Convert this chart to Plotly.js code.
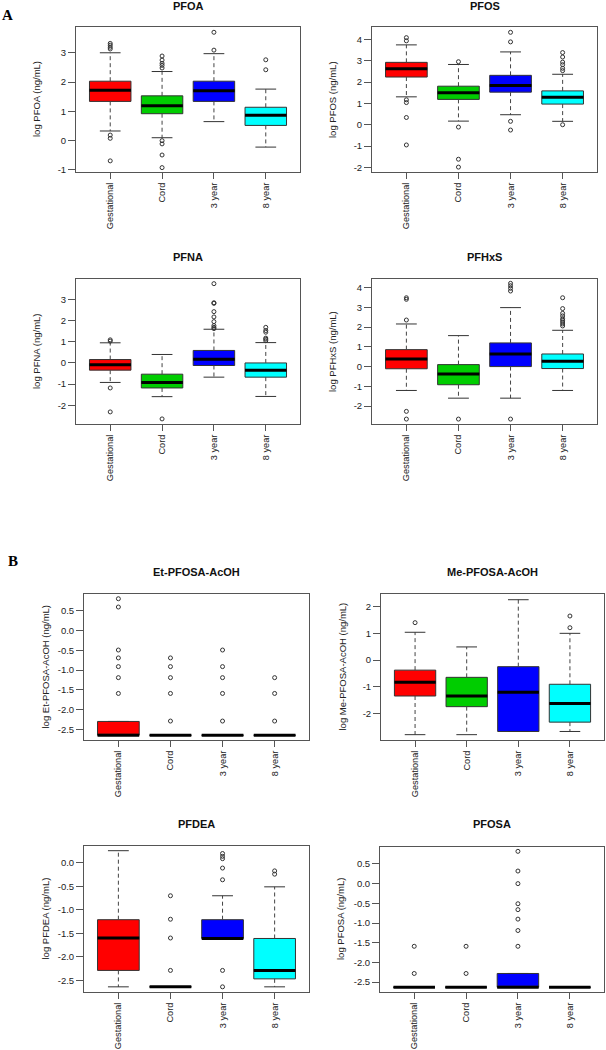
<!DOCTYPE html>
<html>
<head>
<meta charset="utf-8">
<script src="https://cdn.plot.ly/plotly-3.0.1.min.js"></script>
<style>
html,body{margin:0;padding:0;background:#fff;}
#chart{width:606px;height:1050px;}
</style>
</head>
<body>
<div id="chart"></div>
<script>
// ---------- DATA ----------
const categories = ["Gestational", "Cord", "3 year", "8 year"];
const boxColors = ["#FF0000", "#00CD00", "#0000FF", "#00FFFF"];

// PFOA
const pfoaLower  = [0.33, 0.10, 0.65, -0.22];
const pfoaQ1     = [1.34, 0.92, 1.34, 0.52];
const pfoaMedian = [1.72, 1.19, 1.70, 0.87];
const pfoaQ3     = [2.03, 1.53, 2.03, 1.14];
const pfoaUpper  = [3.00, 2.36, 2.97, 1.76];
const pfoaOutliers = [[3.32, 3.26, 3.19, 3.13, 0.19, 0.08, -0.69],
                      [2.89, 2.75, 2.64, 2.57, 2.48, 0.0, -0.11, -0.49, -0.92],
                      [3.70, 3.09],
                      [2.76, 2.42]];
const pfoaTicks = [-1, 0, 1, 2, 3];

// PFOS
const pfosLower  = [1.31, 0.17, 0.47, 0.16];
const pfosQ1     = [2.24, 1.19, 1.53, 0.97];
const pfosMedian = [2.63, 1.50, 1.84, 1.29];
const pfosQ3     = [2.93, 1.81, 2.32, 1.59];
const pfosUpper  = [3.75, 2.83, 3.42, 2.37];
const pfosOutliers = [[4.09, 3.94, 1.17, 1.04, 0.34, -0.95],
                      [2.96, -0.11, -1.62, -1.99],
                      [4.34, 3.89, 0.16, -0.25],
                      [3.39, 3.18, 2.94, 2.82, 2.65, 2.54, 0.0]];
const pfosTicks = [-2, -1, 0, 1, 2, 3, 4];

// PFNA
const pfnaLower  = [-0.92, -1.59, -0.67, -1.58];
const pfnaQ1     = [-0.34, -1.18, -0.12, -0.67];
const pfnaMedian = [-0.09, -0.92, 0.18, -0.34];
const pfnaQ3     = [0.16, -0.53, 0.59, 0.00];
const pfnaUpper  = [0.95, 0.40, 1.59, 0.96];
const pfnaOutliers = [[1.09, 1.03, -1.18, -2.31],
                      [-2.64],
                      [3.74, 2.84, 2.81, 2.42, 2.17, 1.95, 1.76, 1.68, 1.62],
                      [1.68, 1.53, 1.45, 1.17, 1.12, 1.05]];
const pfnaTicks = [-2, -1, 0, 1, 2, 3];

// PFHxS
const pfhxsLower  = [-1.21, -1.60, -1.60, -1.21];
const pfhxsQ1     = [-0.11, -0.92, 0.00, -0.10];
const pfhxsMedian = [0.39, -0.37, 0.64, 0.27];
const pfhxsQ3     = [0.86, 0.10, 1.20, 0.64];
const pfhxsUpper  = [2.16, 1.57, 2.99, 1.84];
const pfhxsOutliers = [[3.49, 3.41, 2.36, -2.27, -2.66],
                       [-2.66],
                       [4.22, 4.10, 3.97, 3.83, -2.66],
                       [3.49, 2.94, 2.70, 2.57, 2.43, 2.35, 2.26, 2.16, 2.06]];
const pfhxsTicks = [-2, -1, 0, 1, 2, 3, 4];

// Et-PFOSA-AcOH
const etLower  = [-2.65, -2.65, -2.65, -2.65];
const etQ1     = [-2.65, -2.65, -2.65, -2.65];
const etMedian = [-2.65, -2.65, -2.65, -2.65];
const etQ3     = [-2.30, -2.65, -2.65, -2.65];
const etUpper  = [-2.30, -2.65, -2.65, -2.65];
const etOutliers = [[0.81, 0.60, -0.49, -0.69, -0.91, -1.19, -1.59],
                    [-0.69, -0.91, -1.19, -1.59, -2.29],
                    [-0.49, -0.91, -1.19, -1.59, -2.29],
                    [-1.19, -1.59, -2.29]];
const etTicks = [-2.5, -2.0, -1.5, -1.0, -0.5, 0.0, 0.5];

// Me-PFOSA-AcOH
const meLower  = [-2.80, -2.80, -2.68, -2.68];
const meQ1     = [-1.35, -1.75, -2.68, -2.33];
const meMedian = [-0.83, -1.35, -1.21, -1.63];
const meQ3     = [-0.38, -0.65, -0.25, -0.91];
const meUpper  = [1.04, 0.49, 2.26, 1.00];
const meOutliers = [[1.40], [], [], [1.65, 1.21]];
const meTicks = [-2, -1, 0, 1, 2];

// PFDEA
const pfdeaLower  = [-2.64, -2.64, -1.61, -2.64];
const pfdeaQ1     = [-2.29, -2.64, -1.61, -2.47];
const pfdeaMedian = [-1.60, -2.64, -1.61, -2.29];
const pfdeaQ3     = [-1.21, -2.64, -1.21, -1.61];
const pfdeaUpper  = [0.26, -2.64, -0.70, -0.51];
const pfdeaOutliers = [[],
                       [-0.70, -1.20, -1.60, -2.29],
                       [0.20, 0.14, 0.09, -0.11, -0.36, -2.29, -2.64],
                       [-0.17, -0.24]];
const pfdeaTicks = [-2.5, -2.0, -1.5, -1.0, -0.5, 0.0];

// PFOSA
const pfosaLower  = [-2.63, -2.63, -2.63, -2.63];
const pfosaQ1     = [-2.63, -2.63, -2.63, -2.63];
const pfosaMedian = [-2.63, -2.63, -2.63, -2.63];
const pfosaQ3     = [-2.63, -2.63, -2.28, -2.63];
const pfosaUpper  = [-2.63, -2.63, -2.28, -2.63];
const pfosaOutliers = [[-1.59, -2.28],
                       [-1.59, -2.28],
                       [0.82, 0.32, 0.00, -0.51, -0.66, -0.90, -1.19, -1.59],
                       []];
const pfosaTicks = [-2.5, -2.0, -1.5, -1.0, -0.5, 0.0, 0.5];

// ---------- PANELS (layout only) ----------
const W = 606, H = 1050;
const panels = [
  {title: "PFOA", ytitle: "log PFOA (ng/mL)", lower: pfoaLower, q1: pfoaQ1, med: pfoaMedian, q3: pfoaQ3, upper: pfoaUpper, out: pfoaOutliers, ticks: pfoaTicks, dec: 0, yrange: [-1.07, 3.88], px: [76, 27, 300, 172], ty: 6},
  {title: "PFOS", ytitle: "log PFOS (ng/mL)", lower: pfosLower, q1: pfosQ1, med: pfosMedian, q3: pfosQ3, upper: pfosUpper, out: pfosOutliers, ticks: pfosTicks, dec: 0, yrange: [-2.22, 4.59], px: [372, 27, 597, 172], ty: 6},
  {title: "PFNA", ytitle: "log PFNA (ng/mL)", lower: pfnaLower, q1: pfnaQ1, med: pfnaMedian, q3: pfnaQ3, upper: pfnaUpper, out: pfnaOutliers, ticks: pfnaTicks, dec: 0, yrange: [-2.88, 3.96], px: [76, 279, 300, 424], ty: 257},
  {title: "PFHxS", ytitle: "log PFHxS (ng/mL)", lower: pfhxsLower, q1: pfhxsQ1, med: pfhxsMedian, q3: pfhxsQ3, upper: pfhxsUpper, out: pfhxsOutliers, ticks: pfhxsTicks, dec: 0, yrange: [-2.91, 4.44], px: [372, 279, 597, 424], ty: 257},
  {title: "Et-PFOSA-AcOH", ytitle: "log Et-PFOSA-AcOH (ng/mL)", lower: etLower, q1: etQ1, med: etMedian, q3: etQ3, upper: etUpper, out: etOutliers, ticks: etTicks, dec: 1, yrange: [-2.77, 0.93], px: [84, 594, 309, 740], ty: 572},
  {title: "Me-PFOSA-AcOH", ytitle: "log Me-PFOSA-AcOH (ng/mL)", lower: meLower, q1: meQ1, med: meMedian, q3: meQ3, upper: meUpper, out: meOutliers, ticks: meTicks, dec: 0, yrange: [-3.0, 2.475], px: [381, 594, 604, 740], ty: 572},
  {title: "PFDEA", ytitle: "log PFDEA (ng/mL)", lower: pfdeaLower, q1: pfdeaQ1, med: pfdeaMedian, q3: pfdeaQ3, upper: pfdeaUpper, out: pfdeaOutliers, ticks: pfdeaTicks, dec: 1, yrange: [-2.75, 0.36], px: [84, 846, 309, 992], ty: 824},
  {title: "PFOSA", ytitle: "log PFOSA (ng/mL)", lower: pfosaLower, q1: pfosaQ1, med: pfosaMedian, q3: pfosaQ3, upper: pfosaUpper, out: pfosaOutliers, ticks: pfosaTicks, dec: 1, yrange: [-2.75, 0.93], px: [380, 847, 604, 992], ty: 824}
];

const FONT = "Liberation Sans, Arial, sans-serif";
const AXCOL = "#555";
const BOXW = 0.8, CAPW = 0.4;
const traces = [];
const layout = {
  width: W, height: H,
  margin: {l: 0, r: 0, t: 0, b: 0},
  paper_bgcolor: "#fff", plot_bgcolor: "#fff",
  showlegend: false, boxmode: "overlay",
  font: {family: FONT, size: 9.5, color: "#222"},
  annotations: []
};

panels.forEach((p, k) => {
  const n = k + 1;
  const xa = "x" + (n === 1 ? "" : n), ya = "y" + (n === 1 ? "" : n);
  const xkey = "xaxis" + (n === 1 ? "" : n), ykey = "yaxis" + (n === 1 ? "" : n);
  const [L, T, R, B] = p.px;
  layout[xkey] = {
    domain: [L / W, R / W], anchor: ya,
    range: [-0.66, 3.66], tickmode: "array",
    tickvals: categories.map((c, i) => i), ticktext: categories,
    tickangle: -90, ticks: "outside", ticklen: 6, tickcolor: AXCOL,
    showline: true, mirror: true, linecolor: AXCOL, linewidth: 1,
    showgrid: false, zeroline: false, fixedrange: true,
    tickfont: {family: FONT, size: 9.2, color: "#222"}
  };
  layout[ykey] = {
    domain: [1 - B / H, 1 - T / H], anchor: xa,
    range: p.yrange, tickmode: "array",
    tickvals: p.ticks, ticktext: p.ticks.map(v => v.toFixed(p.dec)),
    tickangle: 0, ticks: "outside", ticklen: 7, tickcolor: AXCOL,
    showline: true, mirror: true, linecolor: AXCOL, linewidth: 1,
    showgrid: false, zeroline: false, fixedrange: true,
    tickfont: {family: FONT, size: 9.5, color: "#222"}
  };
  // panel title
  layout.annotations.push({
    text: "<b>" + p.title + "</b>", xref: "paper", yref: "paper",
    x: ((L + R) / 2) / W, y: 1 - p.ty / H, xanchor: "center", yanchor: "middle",
    showarrow: false, font: {family: FONT, size: 11, color: "#111"}
  });
  // y axis title
  layout.annotations.push({
    text: p.ytitle, xref: "paper", yref: "paper",
    x: (L - 39.5) / W, y: 1 - ((T + B) / 2) / H, xanchor: "center", yanchor: "middle",
    textangle: -90, showarrow: false, font: {family: FONT, size: 9.5, color: "#222"}
  });

  categories.forEach((c, i) => {
    // box body (no whiskers, those are drawn dashed below)
    traces.push({
      type: "box", xaxis: xa, yaxis: ya, name: c,
      x: [i], q1: [p.q1[i]], median: [p.med[i]], q3: [p.q3[i]],
      lowerfence: [p.q1[i]], upperfence: [p.q3[i]],
      width: BOXW, whiskerwidth: 0, boxpoints: false,
      fillcolor: boxColors[i], line: {color: "#333", width: 1},
      hoverinfo: "skip"
    });
    // dashed whiskers
    traces.push({
      type: "scatter", mode: "lines", xaxis: xa, yaxis: ya,
      x: [i, i, null, i, i], y: [p.q3[i], p.upper[i], null, p.q1[i], p.lower[i]],
      line: {color: "#444", width: 1, dash: "4px,3px"}, hoverinfo: "skip"
    });
    // caps
    traces.push({
      type: "scatter", mode: "lines", xaxis: xa, yaxis: ya,
      x: [i - CAPW / 2, i + CAPW / 2, null, i - CAPW / 2, i + CAPW / 2],
      y: [p.upper[i], p.upper[i], null, p.lower[i], p.lower[i]],
      line: {color: "#333", width: 1}, hoverinfo: "skip"
    });
    // thick median
    traces.push({
      type: "scatter", mode: "lines", xaxis: xa, yaxis: ya,
      x: [i - BOXW / 2, i + BOXW / 2], y: [p.med[i], p.med[i]],
      line: {color: "#000", width: 3}, hoverinfo: "skip"
    });
    // outliers
    if (p.out[i].length) {
      traces.push({
        type: "scatter", mode: "markers", xaxis: xa, yaxis: ya,
        x: p.out[i].map(() => i), y: p.out[i],
        marker: {symbol: "circle-open", size: 4, color: "#333", line: {width: 1, color: "#333"}},
        hoverinfo: "skip"
      });
    }
  });
});

// section labels
layout.annotations.push({text: "<b>A</b>", xref: "paper", yref: "paper", x: 7 / W, y: 1 - 15 / H,
  xanchor: "center", yanchor: "middle", showarrow: false,
  font: {family: "Liberation Serif, Times New Roman, serif", size: 15, color: "#000"}});
layout.annotations.push({text: "<b>B</b>", xref: "paper", yref: "paper", x: 13 / W, y: 1 - 561 / H,
  xanchor: "center", yanchor: "middle", showarrow: false,
  font: {family: "Liberation Serif, Times New Roman, serif", size: 15, color: "#000"}});

Plotly.newPlot("chart", traces, layout, {staticPlot: true, displayModeBar: false});
</script>
</body>
</html>
